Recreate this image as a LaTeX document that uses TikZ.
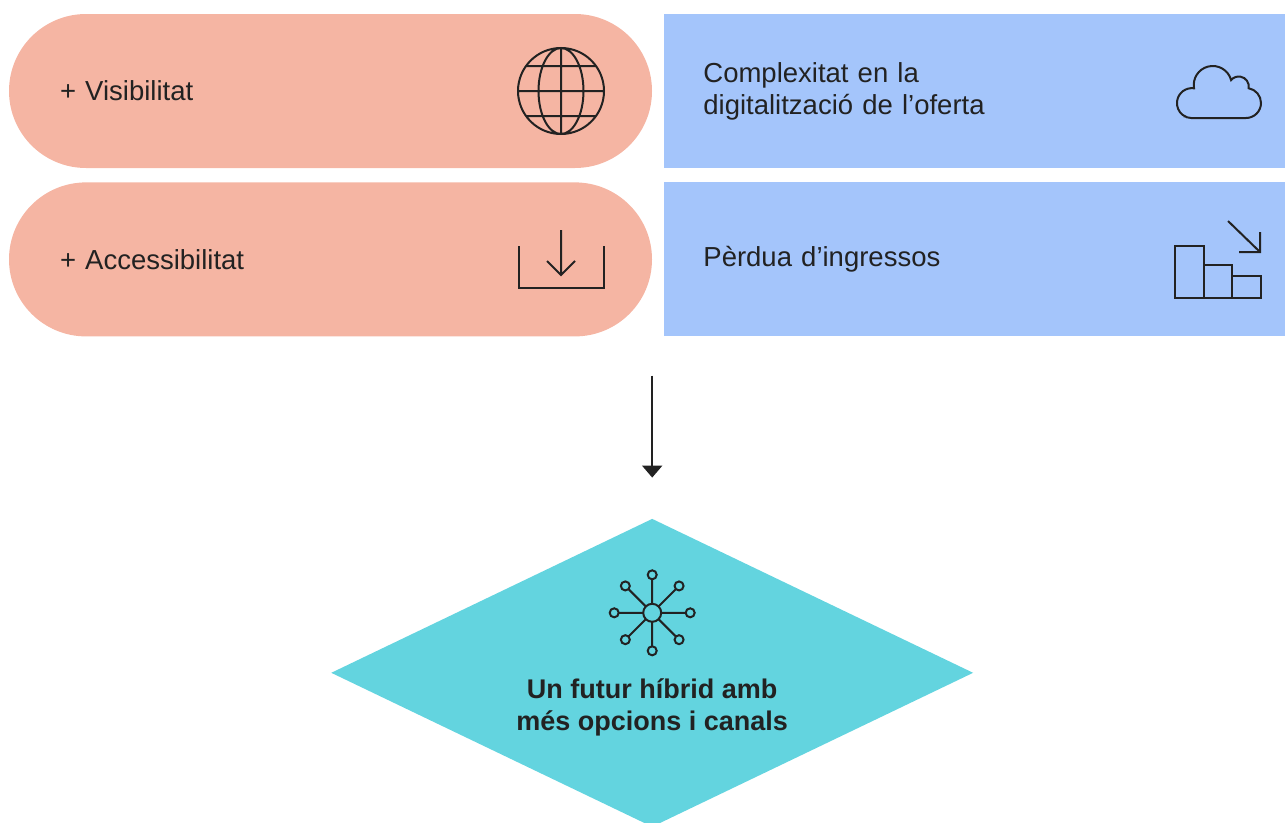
\documentclass[tikz,border=0pt]{standalone}
\usepackage{fontspec}
\setmainfont{Liberation Sans}
\usepackage{xcolor}
\usepackage{tikz}
\usetikzlibrary{arrows.meta,shapes.geometric,positioning}
\definecolor{salmon}{HTML}{F5B5A3}
\definecolor{skyblue}{HTML}{A4C5FB}
\definecolor{hubcyan}{HTML}{63D4DF}
\definecolor{ink}{HTML}{222222}

\begin{document}
\begin{tikzpicture}[x=1pt, y=-1pt, node distance=14pt,
  pill/.style={fill=salmon, rounded corners=77pt, minimum width=643pt, minimum height=154pt,
    text width=541pt, inner xsep=51pt, align=left, text=ink, font=\fontsize{27.5}{32}\selectfont},
  negbox/.style={fill=skyblue, minimum width=621pt, minimum height=154pt,
    text width=543pt, inner xsep=39pt, align=left, text=ink, font=\fontsize{27.5}{32}\selectfont},
  goal/.style={diamond, fill=hubcyan, minimum width=642pt, minimum height=308pt, inner sep=0pt},
  goaltext/.style={align=center, text=ink, font=\bfseries\fontsize{27}{32}\selectfont},
  icon/.style={draw=ink, line width=2pt},
  flow/.style={draw=ink, line width=2pt, -{Triangle[width=20pt,length=12pt]}, shorten >=41pt}]
\useasboundingbox (0,0) rectangle (1285,822);
\node (vis) [pill] at (330.5,91) {+ Visibilitat};
\node (acc) [pill, below=of vis] {+ Accessibilitat};
\node (cplx) [negbox, right=12pt of vis] {Complexitat en la\\digitalització de l’oferta};
\node (loss) [negbox, below=of cplx] {Pèrdua d’ingressos};
\node (fut) [goal, below=182pt of acc.south east] {};
\node (futtext) [goaltext] at ([yshift=-35pt]fut.center) {Un futur híbrid amb\\més opcions i canals};
\coordinate (from) at ([yshift=-39pt]acc.south east);
\path (from) edge[flow] (fut);

% globe
\draw[icon] (561,91) circle (43) (561,91) ellipse (22.5 and 43)
  (561,48) -- (561,134) (518,91) -- (604,91) (526,66) -- (596,66) (526,116) -- (596,116);
% download
\draw[icon] (519,246) -- (519,288) -- (604,288) -- (604,246);
\draw[icon] (561,230) -- (561,275) (547,261) -- (561,275) -- (575,261);
% cloud
\draw[icon] (1191.4,118) -- (1246,118) arc[start angle=90, end angle=-80, radius=15]
  arc[start angle=10, end angle=-140, radius=10]
  arc[start angle=-15, end angle=-190, radius=19]
  arc[start angle=-82, end angle=-270, radius=15] -- cycle;
% bars
\draw[icon] (1175,246) rectangle (1204,298) (1204,265) rectangle (1232,298) (1232,276) rectangle (1261,298);
\draw[icon] (1228,221) -- (1260,252) (1260,232) -- (1260,252) -- (1239,252);
% hub
\begin{scope}[shift={([yshift=60pt]fut.center)}]
\draw[icon] (0,0) circle (9);
\foreach \a in {0,45,...,315}
  \draw[icon] (\a:9) -- (\a:33.5) (\a:38) circle (4.5);
\end{scope}
\end{tikzpicture}
\end{document}
